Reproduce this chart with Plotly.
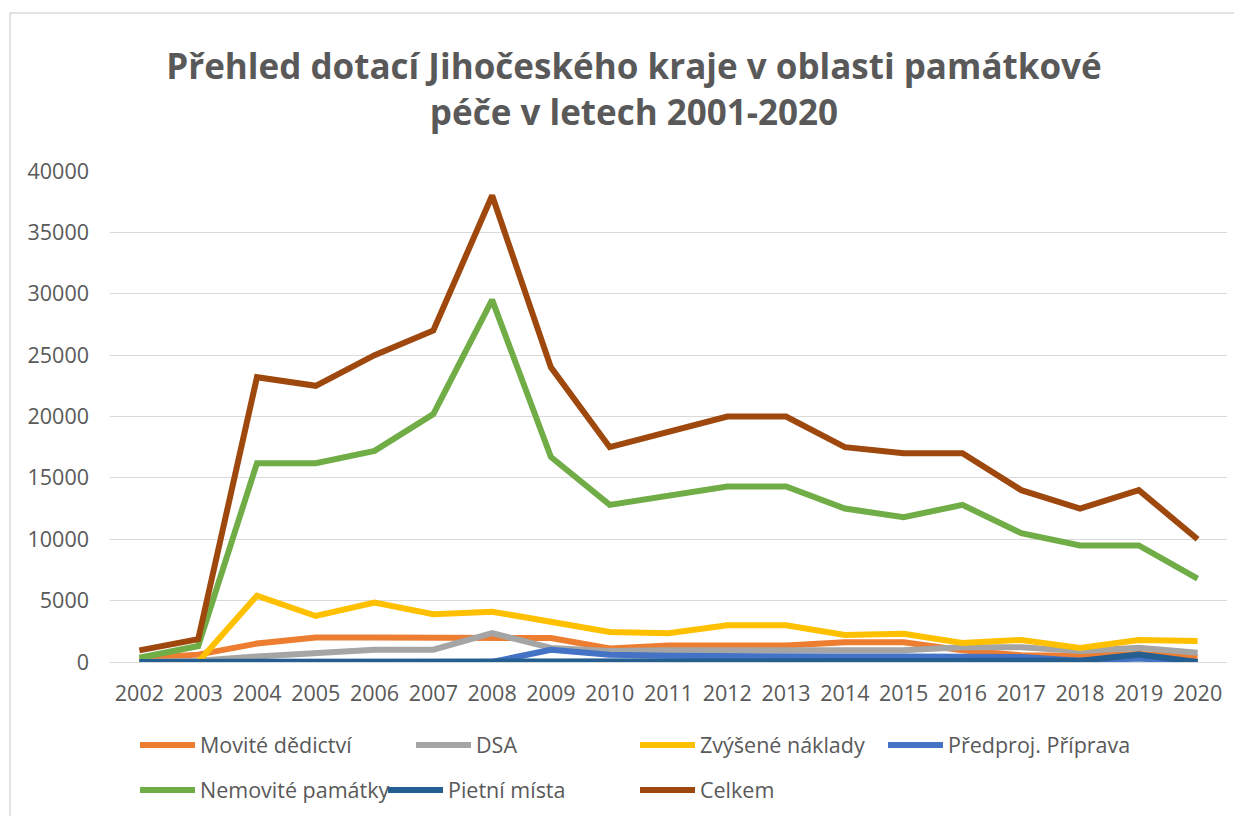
import plotly.graph_objects as go

years = [str(y) for y in range(2002, 2021)]

movite_dedictvi = [300, 600, 1500, 2000, 2000, 1950, 1900, 1950, 1100, 1350, 1350, 1350, 1600, 1600, 950, 550, 500, 650, 420]
dsa = [0, 100, 450, 750, 1000, 1000, 2350, 1150, 900, 950, 950, 950, 950, 950, 1200, 1200, 900, 1150, 760]
zvysene_naklady = [0, 0, 5400, 3750, 4850, 3900, 4100, 3300, 2450, 2350, 3000, 3000, 2200, 2300, 1550, 1800, 1150, 1800, 1720]
predproj_priprava = [0, 0, 0, 0, 0, 0, 0, 1000, 600, 500, 450, 450, 450, 450, 450, 400, 100, 280, 0]
nemovite_pamatky = [350, 1300, 16200, 16200, 17200, 20200, 29500, 16700, 12800, 13600, 14300, 14300, 12500, 11800, 12800, 10500, 9500, 9500, 6800]
pietni_mista = [0, 0, 0, 0, 0, 0, 0, 0, 0, 0, 0, 0, 0, 0, 0, 0, 100, 600, 0]
celkem = [950, 1850, 23200, 22500, 25000, 27000, 38000, 24000, 17500, 18700, 20000, 20000, 17500, 17000, 17000, 14000, 12500, 14000, 10000]

series_names = ["Movité dědictví", "DSA", "Zvýšené náklady", "Předproj. Příprava",
                "Nemovité památky", "Pietní místa", "Celkem"]
series_values = [movite_dedictvi, dsa, zvysene_naklady, predproj_priprava,
                 nemovite_pamatky, pietni_mista, celkem]

# styling / layout (not data)
colors = ["#ED7D31", "#A5A5A5", "#FFC000", "#4472C4", "#70AD47", "#255E91", "#9E480E"]
legend_pos = [(135, 745), (411, 745), (635, 745), (883, 745),
              (135, 790), (383, 790), (635, 790)]  # target page pixel positions

OFF = 8  # page body margin
W, H = 1242 - OFF, 816
# target plot area (page pixels): x 110..1227, y 171..662
ML = 110 - OFF
MR = W - (1227 - OFF)
MT = 171 - OFF
MB = H - (662 - OFF)
PW, PH = W - ML - MR, H - MT - MB


def px2x(px):
    return (px - OFF - ML) / PW


def py2y(py):
    return (H - MB - (py - OFF)) / PH


def cx(px):
    return (px - OFF) / W


def cy(py):
    return 1 - (py - OFF) / H


font_family = "Open Sans"
txt = "#595959"

fig = go.Figure()
legends = {}
for i, (name, vals) in enumerate(zip(series_names, series_values)):
    key = "legend" if i == 0 else f"legend{i + 1}"
    fig.add_trace(go.Scatter(
        x=years, y=vals, name=name, mode="lines",
        line=dict(color=colors[i], width=6),
        legend=key, showlegend=True,
    ))
    lx, ly = legend_pos[i]
    legends[key] = dict(
        orientation="h", xanchor="left", yanchor="middle",
        xref="container", yref="container",
        x=cx(lx), y=cy(ly),
        font=dict(family=font_family, size=21.5, color=txt),
        bgcolor="rgba(0,0,0,0)", itemwidth=55,
    )

fig.update_layout(
    width=W, height=H,
    margin=dict(l=ML, r=MR, t=MT, b=MB, autoexpand=False),
    paper_bgcolor="white", plot_bgcolor="white",
    showlegend=True,
    title=dict(
        text="Přehled dotací Jihočeského kraje v oblasti památkové<br>péče v letech 2001-2020",
        x=cx(634), xanchor="center", xref="container",
        y=cy(79), yanchor="middle", yref="container",
        font=dict(family=font_family, size=35, color=txt, weight="bold"),
    ),
    xaxis=dict(
        type="category", range=[-0.5, len(years) - 0.5], showgrid=False,
        showline=True, linecolor="#D9D9D9", linewidth=1,
        ticks="", tickfont=dict(family=font_family, size=21.5, color=txt),
        ticklabelstandoff=12,
    ),
    yaxis=dict(
        range=[0, 40000], dtick=5000, tickformat="d",
        showgrid=True, gridcolor="#D9D9D9", gridwidth=1,
        zeroline=False, showline=False,
        tickfont=dict(family=font_family, size=21.5, color=txt),
        ticklabelstandoff=20,
    ),
    shapes=[dict(
        type="rect", xref="paper", yref="paper",
        x0=px2x(10), x1=px2x(1260), y0=py2y(840), y1=py2y(13),
        line=dict(color="#D9D9D9", width=1.5), fillcolor="rgba(0,0,0,0)",
        layer="below",
    )],
    **legends,
)

fig.write_html("out.html")
